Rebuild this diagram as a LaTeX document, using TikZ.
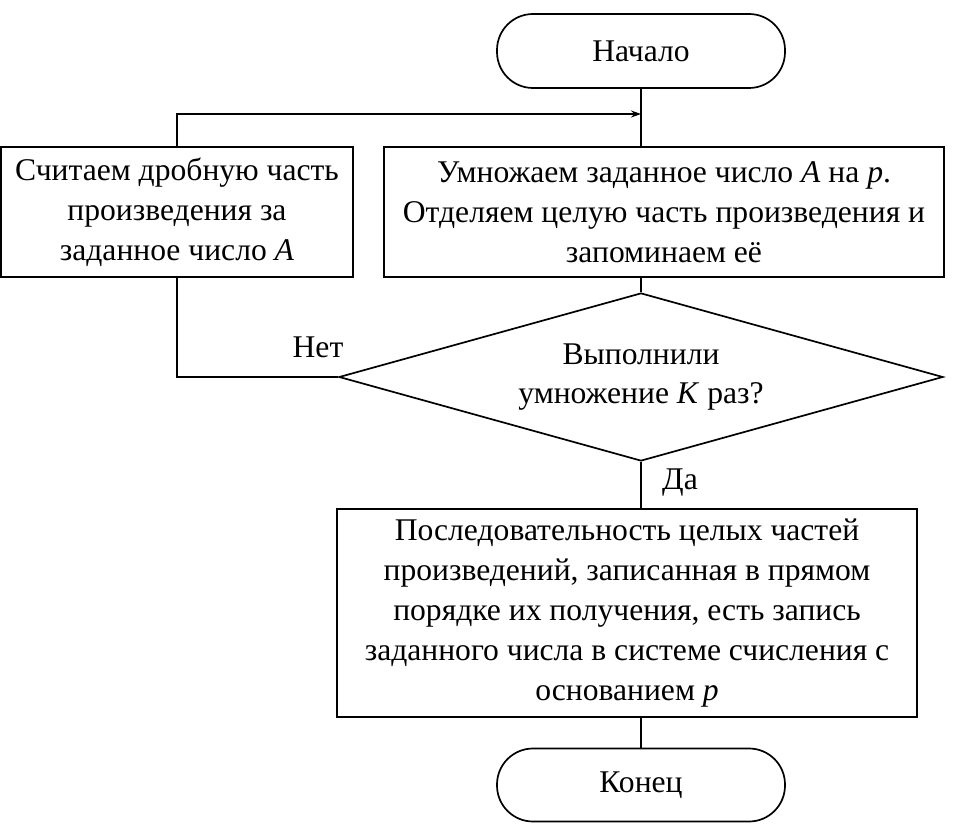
\documentclass[tikz,border=0pt]{standalone}
\usepackage{fontspec}
\setmainfont{Liberation Serif}
\usetikzlibrary{shapes.geometric,arrows.meta}
\tikzset{
  box/.style={draw, line width=1.7pt, inner sep=0pt, align=center, font=\fontsize{31.6}{40}\selectfont},
  term/.style={box, rounded corners=36pt},
  decision/.style={draw, diamond, line width=1.7pt, inner sep=0pt, aspect=3.6, align=center, font=\fontsize{31.6}{39}\selectfont},
  lbl/.style={font=\fontsize{31.6}{40}\selectfont, inner sep=0pt},
  conn/.style={line width=1.7pt},
  arr/.style={conn, -{Stealth[length=10pt,width=7pt]}}
}
\begin{document}
\begin{tikzpicture}[x=1pt,y=-1pt]
\useasboundingbox (0,0) rectangle (958,832);
\node[term, minimum width=288pt, minimum height=74pt] (start) at (641,51) {Начало};
\node[box, minimum width=352pt, minimum height=130pt] (lbox) at (177,212)
  {Считаем дробную часть\\произведения за\\заданное число \textit{A}};
\node[box, minimum width=560pt, minimum height=130pt] (rbox) at (664,212)
  {Умножаем заданное число \textit{A} на \textit{p}.\\Отделяем целую часть произведения и\\запоминаем её};
\node[decision, minimum width=604pt, minimum height=168pt] (dia) at (641,377)
  {Выполнили\\умножение \textit{K} раз?};
\node[box, minimum width=580pt, minimum height=208pt] (proc) at (627,613)
  {Последовательность целых частей\\произведений, записанная в прямом\\порядке их получения, есть запись\\заданного числа в системе счисления с\\основанием \textit{p}};
\node[term, minimum width=288pt, minimum height=73pt] (fin) at (641,785) {Конец};
\node[lbl] (no) at (318,347) {Нет};
\node[lbl] (yes) at (680,483) {Да};
\coordinate (merge) at (641,114);
\draw[conn] (start.south) -- (start.south |- rbox.north);
\draw[arr] (lbox.north) |- (merge);
\draw[conn] (dia.north |- rbox.south) -- (dia.north);
\draw[conn] (dia.west) -| (lbox.south);
\draw[conn] (dia.south) -- (dia.south |- proc.north);
\draw[conn] (fin.north |- proc.south) -- (fin.north);
\end{tikzpicture}
\end{document}
